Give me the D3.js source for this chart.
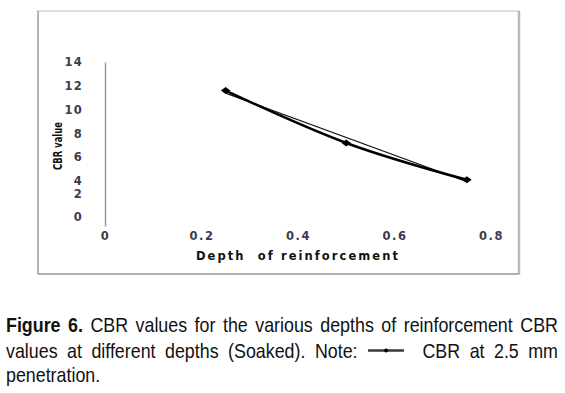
<!DOCTYPE html>
<html><head><meta charset="utf-8">
<script src="https://cdn.jsdelivr.net/npm/d3@7"></script>
<style>
html,body{margin:0;padding:0;background:#fff;}
svg{display:block;}
</style></head>
<body>
<svg id="chart" width="565" height="393"></svg>
<script>
// ---- data ----
const depths = [0.25, 0.5, 0.75];
const cbrValues = [11.6, 7.2, 4.1];
const xTicks = [0, 0.2, 0.4, 0.6, 0.8];
const yTicks = [0, 2, 4, 6, 8, 10, 12, 14];
const xTitle = "Depth  of reinforcement";
const yTitle = "CBR value";
const captionLine1 = [["Figure", true], ["6.", true], "CBR", "values", "for", "the", "various", "depths", "of", "reinforcement", "CBR"];
const captionLine2 = ["values", "at", "different", "depths", "(Soaked).", "Note:", "__LEGEND__", "CBR", "at", "2.5", "mm"];
const captionLine3 = ["penetration."];

const svg = d3.select("#chart");

// chart frame
const frame = {l: 38, t: 11, r: 519, b: 274};
svg.append("rect").attr("x", frame.l).attr("y", frame.t)
  .attr("width", frame.r - frame.l).attr("height", frame.b - frame.t)
  .attr("fill", "#fff").attr("stroke", "#dedede").attr("stroke-width", 2);
svg.append("line").attr("x1", frame.l).attr("x2", frame.l).attr("y1", frame.t).attr("y2", frame.b)
  .attr("stroke", "#b4b4b4").attr("stroke-width", 2);
svg.append("line").attr("x1", frame.r).attr("x2", frame.r).attr("y1", frame.t).attr("y2", frame.b)
  .attr("stroke", "#b8b8b8").attr("stroke-width", 2.5);
svg.append("line").attr("x1", frame.l).attr("x2", frame.r).attr("y1", frame.b).attr("y2", frame.b)
  .attr("stroke", "#b0b0b0").attr("stroke-width", 2);

// scales
const x = d3.scaleLinear().domain([0, 0.8]).range([105, 491]);
// tick labels of the original are unevenly spaced at the bottom
const y = d3.scaleLinear().domain([-0.8, 0, 2, 4, 14]).range([226, 217, 194, 181, 62]);

const tickFont = "'DejaVu Sans', Verdana, sans-serif";

// y axis
const yAxis = svg.append("g").attr("transform", `translate(${x(0)},0)`)
  .call(d3.axisLeft(y).tickValues(yTicks).tickSize(0).tickPadding(22).tickFormat(d3.format("d")));
yAxis.select(".domain").attr("stroke", "#9a9a9a").attr("stroke-width", 1.5);
yAxis.selectAll("text").attr("font-family", tickFont).attr("font-weight", "bold")
  .attr("font-size", 11.5).attr("letter-spacing", 1.2).attr("fill", "#3a3d4a");

// x axis (labels only)
const xAxis = svg.append("g").attr("transform", `translate(0,232)`)
  .call(d3.axisBottom(x).tickValues(xTicks).tickSize(0).tickPadding(0).tickFormat(d => d === 0 ? "0" : d3.format(".1f")(d)));
xAxis.select(".domain").remove();
xAxis.selectAll("text").attr("font-family", tickFont).attr("font-weight", "bold")
  .attr("font-size", 11.5).attr("letter-spacing", 1.6).attr("fill", "#3a3d4a");

// axis titles
svg.append("text").attr("x", 297).attr("y", 260).attr("text-anchor", "middle")
  .style("white-space", "pre")
  .attr("font-family", tickFont).attr("font-weight", "bold").attr("font-size", 11.5)
  .attr("textLength", 202).attr("lengthAdjust", "spacing").attr("fill", "#111")
  .text(xTitle);
svg.append("text").attr("transform", "translate(61.5,146) rotate(-90)").attr("text-anchor", "middle")
  .attr("font-family", tickFont).attr("font-weight", "bold").attr("font-size", 13)
  .attr("textLength", 48).attr("lengthAdjust", "spacingAndGlyphs").attr("fill", "#111")
  .text(yTitle);

// data
const pts = depths.map((d, i) => [d, cbrValues[i]]);

// linear trendline (least squares of the data)
const mx = d3.mean(depths), my = d3.mean(cbrValues);
const slope = d3.sum(pts, p => (p[0] - mx) * (p[1] - my)) / d3.sum(pts, p => (p[0] - mx) ** 2);
const icpt = my - slope * mx;
const trend = d3.extent(depths).map(d => [d, icpt + slope * d]);
svg.append("path").datum(trend)
  .attr("d", d3.line().x(d => x(d[0])).y(d => y(d[1])))
  .attr("fill", "none").attr("stroke", "#111").attr("stroke-width", 1.2);

// data series
svg.append("path").datum(pts)
  .attr("d", d3.line().x(d => x(d[0])).y(d => y(d[1])).curve(d3.curveMonotoneX))
  .attr("fill", "none").attr("stroke", "#000").attr("stroke-width", 2.6);

const marker = d3.symbol(d3.symbolDiamond2, 34);
svg.selectAll(".pt").data(pts).join("path").attr("class", "pt")
  .attr("d", marker)
  .attr("transform", d => `translate(${x(d[0])},${y(d[1])}) scale(1.3,0.95)`)
  .attr("fill", "#000");

// ---- caption (justified, condensed) ----
const capFont = "'Liberation Sans', Arial, sans-serif";
const capSize = 21, squeeze = 0.85;
const left = 6, right = 558;
const legendW = 36;

function measure(word, bold) {
  const t = svg.append("text").attr("font-family", capFont).attr("font-size", capSize)
    .attr("font-weight", bold ? "bold" : "normal").text(word);
  const w = t.node().getComputedTextLength() * squeeze;
  t.remove();
  return w;
}
function drawLine(tokens, baseline, justify) {
  const items = tokens.map(tk => {
    const word = Array.isArray(tk) ? tk[0] : tk;
    const bold = Array.isArray(tk) ? tk[1] : false;
    const legend = word === "__LEGEND__";
    return {word, bold, legend, w: legend ? legendW + 10 : measure(word, bold)};
  });
  const total = d3.sum(items, d => d.w);
  const gap = justify ? (right - left - total) / (items.length - 1) : capSize * 0.278 * squeeze;
  let cx = left;
  items.forEach(it => {
    if (it.legend) {
      const lx = cx + 1, cy = baseline - 7.5;
      svg.append("line").attr("x1", lx).attr("x2", lx + legendW).attr("y1", cy).attr("y2", cy)
        .attr("stroke", "#3a3a3a").attr("stroke-width", 2.4);
      svg.append("path").attr("d", d3.symbol(d3.symbolDiamond2, 14)())
        .attr("transform", `translate(${lx + legendW / 2},${cy}) scale(1.2,1)`).attr("fill", "#000");
    } else {
      svg.append("text").attr("transform", `translate(${cx},${baseline}) scale(${squeeze},1)`)
        .attr("font-family", capFont).attr("font-size", capSize)
        .attr("font-weight", it.bold ? "bold" : "normal").attr("fill", "#111").text(it.word);
    }
    cx += it.w + gap;
  });
}
drawLine(captionLine1, 332, true);
drawLine(captionLine2, 358, true);
drawLine(captionLine3, 382, false);
</script>
</body></html>
